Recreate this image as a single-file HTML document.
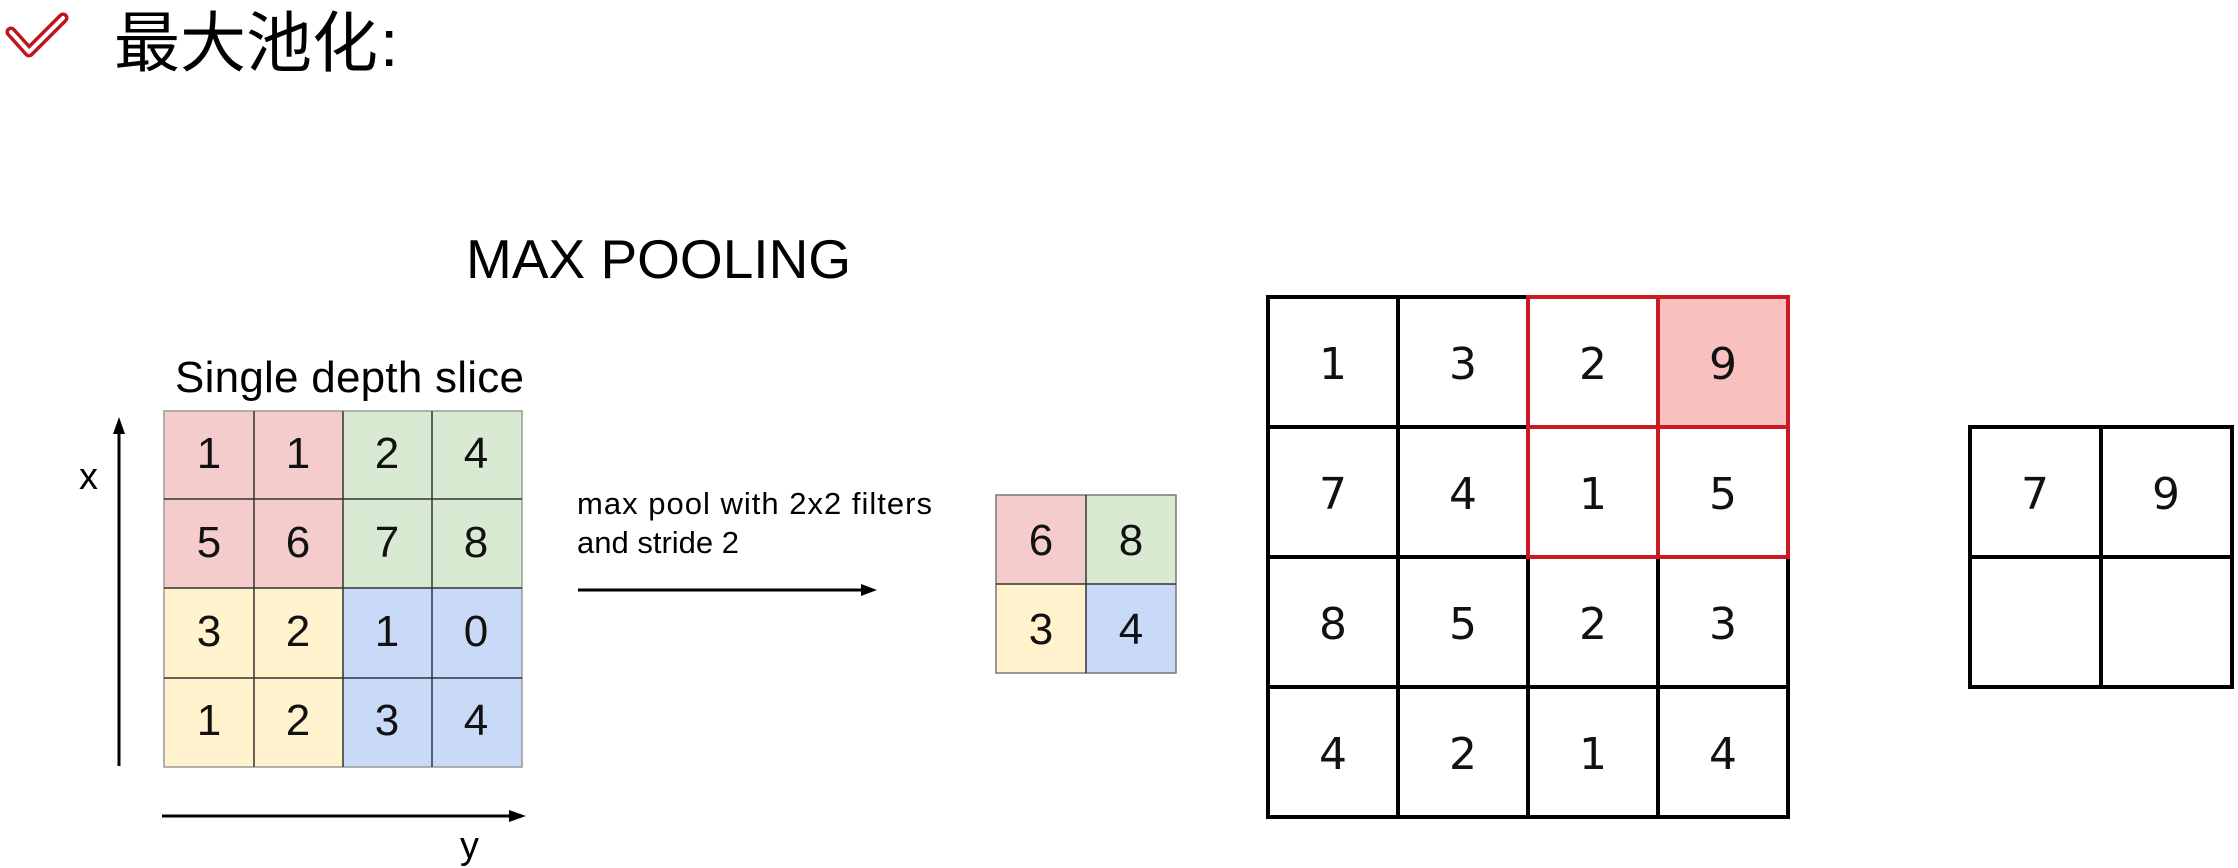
<!DOCTYPE html>
<html><head><meta charset="utf-8"><style>
html,body{margin:0;padding:0;background:#fff;}
svg{display:block;}
</style></head><body>
<svg width="2238" height="868" viewBox="0 0 2238 868" xmlns="http://www.w3.org/2000/svg">
<rect width="2238" height="868" fill="#fff"/>
<!-- check icon -->
<path d="M11 32 L29 52 L63 18" fill="none" stroke="#c0141e" stroke-width="11" stroke-linejoin="round" stroke-linecap="round"/>
<path d="M11 32 L29 52 L63 18" fill="none" stroke="#fff" stroke-width="4" stroke-linejoin="round" stroke-linecap="round"/>
<text x="114" y="66" font-family="'Liberation Sans','Noto Sans CJK SC',sans-serif" font-size="66" fill="#000">最大池化</text>
<text x="380" y="66" font-family="'Liberation Sans',sans-serif" font-size="66" fill="#000">:</text>
<text x="466" y="278" font-family="'Liberation Sans',sans-serif" font-size="55" fill="#000">MAX POOLING</text>
<text x="175" y="392" font-family="'Liberation Sans',sans-serif" font-size="44" fill="#000" textLength="349">Single depth slice</text>
<!-- left grid -->
<g>
<rect x="164" y="411" width="179" height="177" fill="#f4cccc"/>
<rect x="343" y="411" width="179" height="177" fill="#d9ead3"/>
<rect x="164" y="588" width="179" height="179" fill="#fff2cc"/>
<rect x="343" y="588" width="179" height="179" fill="#c9daf8"/>
<g stroke="#333" stroke-width="1.5" fill="none">
<rect x="164" y="411" width="358" height="356" stroke="#999"/>
<line x1="254" y1="411" x2="254" y2="767"/><line x1="343" y1="411" x2="343" y2="767"/><line x1="432" y1="411" x2="432" y2="767"/>
<line x1="164" y1="499" x2="522" y2="499"/><line x1="164" y1="588" x2="522" y2="588"/><line x1="164" y1="678" x2="522" y2="678"/>
</g>
<g font-family="'Liberation Sans',sans-serif" font-size="44" fill="#111" text-anchor="middle">
<text x="209" y="468">1</text><text x="298" y="468">1</text><text x="387" y="468">2</text><text x="476" y="468">4</text>
<text x="209" y="557">5</text><text x="298" y="557">6</text><text x="387" y="557">7</text><text x="476" y="557">8</text>
<text x="209" y="646">3</text><text x="298" y="646">2</text><text x="387" y="646">1</text><text x="476" y="646">0</text>
<text x="209" y="735">1</text><text x="298" y="735">2</text><text x="387" y="735">3</text><text x="476" y="735">4</text>
</g>
</g>
<!-- axes -->
<line x1="119" y1="432" x2="119" y2="766" stroke="#000" stroke-width="3"/>
<polygon points="119,417 113,434 125,434" fill="#000"/>
<text x="79" y="489" font-family="'Liberation Sans',sans-serif" font-size="38" fill="#000">x</text>
<line x1="162" y1="816" x2="510" y2="816" stroke="#000" stroke-width="3"/>
<polygon points="526,816 509,810 509,822" fill="#000"/>
<text x="460" y="858" font-family="'Liberation Sans',sans-serif" font-size="38" fill="#000">y</text>
<!-- middle text and arrow -->
<text x="577" y="514" font-family="'Liberation Sans',sans-serif" font-size="31" fill="#000" textLength="355">max pool with 2x2 filters</text>
<text x="577" y="553" font-family="'Liberation Sans',sans-serif" font-size="31" fill="#000">and stride 2</text>
<line x1="578" y1="590" x2="862" y2="590" stroke="#000" stroke-width="3"/>
<polygon points="877,590 861,584 861,596" fill="#000"/>
<!-- small grid -->
<rect x="996" y="495" width="90" height="89" fill="#f4cccc"/>
<rect x="1086" y="495" width="90" height="89" fill="#d9ead3"/>
<rect x="996" y="584" width="90" height="89" fill="#fff2cc"/>
<rect x="1086" y="584" width="90" height="89" fill="#c9daf8"/>
<g stroke="#333" stroke-width="1.5" fill="none">
<rect x="996" y="495" width="180" height="178" stroke="#777"/>
<line x1="1086" y1="495" x2="1086" y2="673"/><line x1="996" y1="584" x2="1176" y2="584"/>
</g>
<g font-family="'Liberation Sans',sans-serif" font-size="44" fill="#111" text-anchor="middle">
<text x="1041" y="555">6</text><text x="1131" y="555">8</text>
<text x="1041" y="644">3</text><text x="1131" y="644">4</text>
</g>
<!-- big grid -->
<rect x="1658" y="297" width="130" height="130" fill="#f9c0c0"/>
<g stroke="#000" stroke-width="4" fill="none">
<rect x="1268" y="297" width="520" height="520"/>
<line x1="1398" y1="297" x2="1398" y2="817"/><line x1="1528" y1="297" x2="1528" y2="817"/><line x1="1658" y1="297" x2="1658" y2="817"/>
<line x1="1268" y1="427" x2="1788" y2="427"/><line x1="1268" y1="557" x2="1788" y2="557"/><line x1="1268" y1="687" x2="1788" y2="687"/>
</g>
<g stroke="#cc1a25" stroke-width="4" fill="none">
<rect x="1528" y="297" width="260" height="260"/>
<line x1="1658" y1="297" x2="1658" y2="557"/><line x1="1528" y1="427" x2="1788" y2="427"/>
</g>
<g font-family="'DejaVu Sans',sans-serif" font-size="44" fill="#111" text-anchor="middle">
<text x="1333" y="379">1</text><text x="1463" y="379">3</text><text x="1593" y="379">2</text><text x="1723" y="379">9</text>
<text x="1333" y="509">7</text><text x="1463" y="509">4</text><text x="1593" y="509">1</text><text x="1723" y="509">5</text>
<text x="1333" y="639">8</text><text x="1463" y="639">5</text><text x="1593" y="639">2</text><text x="1723" y="639">3</text>
<text x="1333" y="769">4</text><text x="1463" y="769">2</text><text x="1593" y="769">1</text><text x="1723" y="769">4</text>
</g>
<!-- right grid -->
<g stroke="#000" stroke-width="4" fill="none">
<rect x="1970" y="427" width="262" height="260"/>
<line x1="2101" y1="427" x2="2101" y2="687"/><line x1="1970" y1="557" x2="2232" y2="557"/>
</g>
<g font-family="'DejaVu Sans',sans-serif" font-size="44" fill="#111" text-anchor="middle">
<text x="2035" y="509">7</text><text x="2166" y="509">9</text>
</g>
</svg>
</body></html>
